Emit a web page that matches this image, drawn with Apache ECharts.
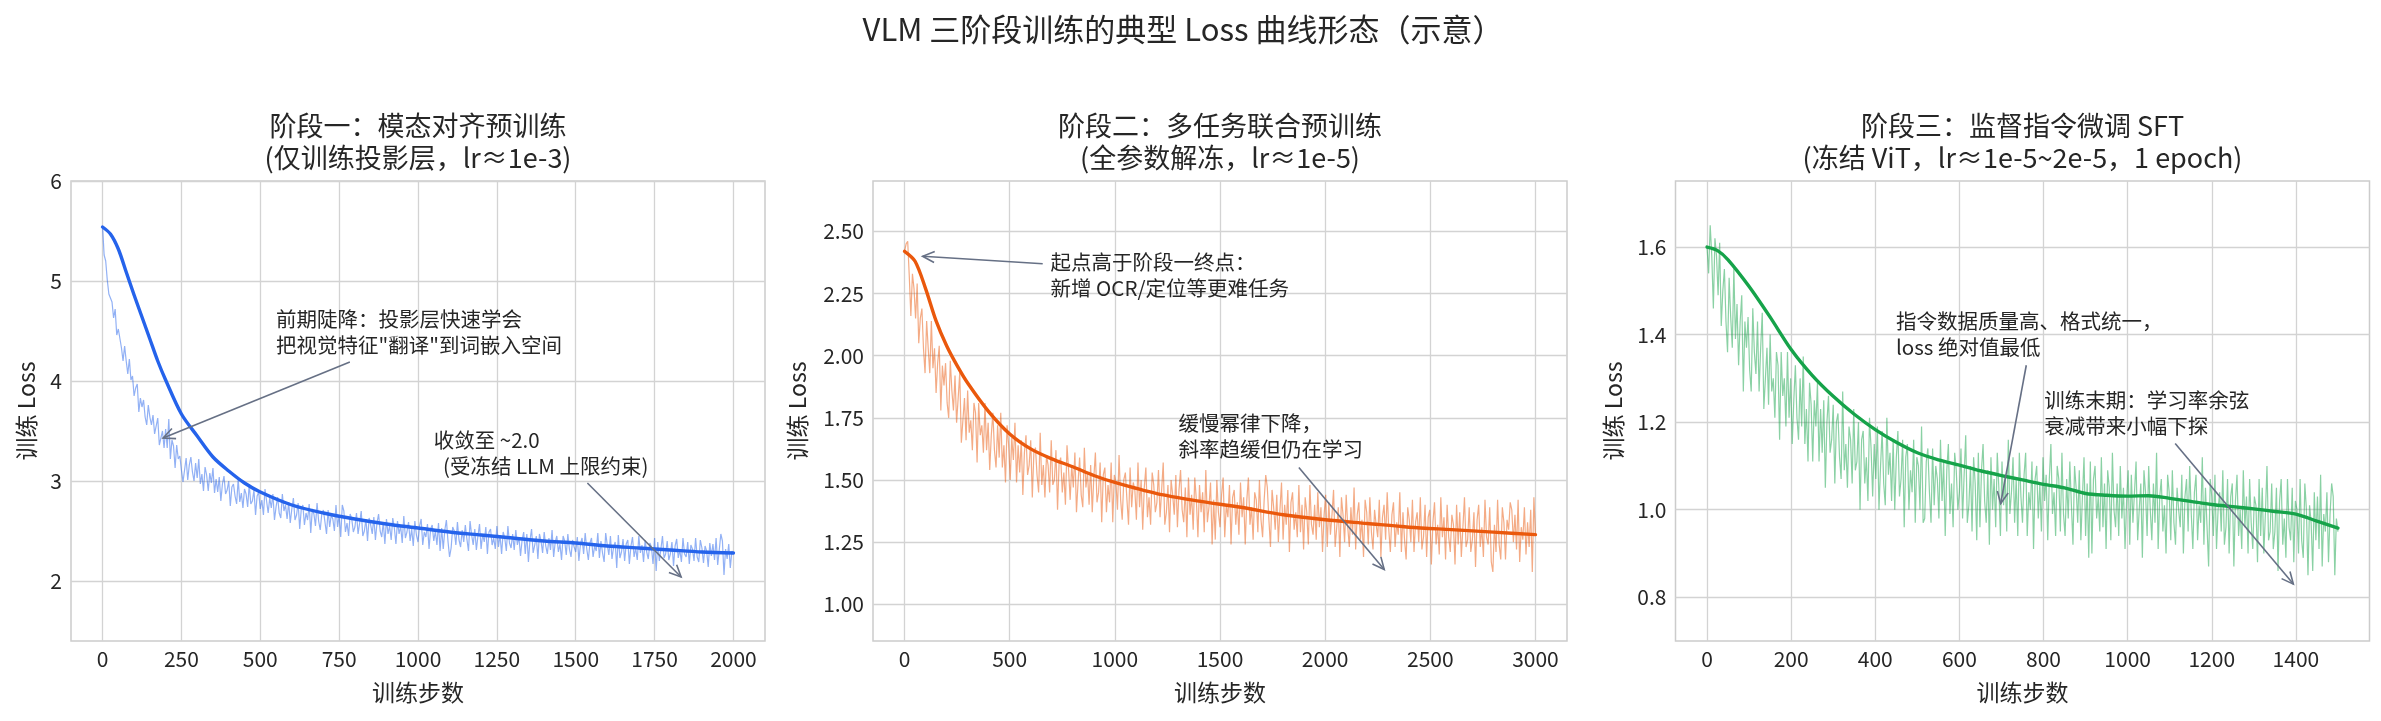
<!DOCTYPE html>
<html>
<head>
<meta charset="utf-8">
<title>VLM 三阶段训练的典型 Loss 曲线形态</title>
<script src="https://cdn.jsdelivr.net/npm/echarts@6/dist/echarts.min.js"></script>
<style>
  html, body { margin: 0; padding: 0; background: #fff; }
  #chart { width: 2381px; height: 721px; }
</style>
</head>
<body>
<div id="chart"></div>
<script>
// ---- data ----
// stage 1: raw loss every 5 steps (0..2000)
var step1 = 5;
var raw1 = [
  5.55, 5.26, 5.20, 5.01, 4.87, 4.86, 4.79, 4.63, 4.72, 4.46, 4.52, 4.52, 4.33, 4.20, 4.35, 4.20, 4.07, 4.22, 4.01, 4.05,
  3.85, 3.93, 3.97, 3.69, 3.83, 3.74, 3.81, 3.64, 3.56, 3.76, 3.64, 3.56, 3.66, 3.47, 3.55, 3.63, 3.36, 3.43, 3.50, 3.33,
  3.52, 3.33, 3.62, 3.22, 3.41, 3.35, 3.13, 3.36, 3.22, 3.25, 3.11, 2.99, 3.11, 3.23, 3.01, 3.16, 3.24, 3.09, 3.00, 3.18,
  3.03, 3.22, 2.97, 3.07, 2.90, 3.14, 3.06, 2.90, 3.08, 2.98, 3.13, 2.88, 3.02, 2.89, 3.04, 2.80, 2.97, 3.05, 2.87, 2.91,
  3.00, 2.75, 2.94, 2.97, 2.85, 2.77, 3.02, 2.79, 2.88, 2.73, 2.92, 2.87, 2.74, 2.97, 2.77, 2.80, 2.91, 2.66, 2.85, 2.89,
  2.72, 2.81, 2.66, 2.92, 2.80, 2.68, 2.83, 2.73, 2.87, 2.61, 2.74, 2.84, 2.68, 2.63, 2.87, 2.70, 2.76, 2.62, 2.79, 2.58,
  2.72, 2.83, 2.61, 2.66, 2.78, 2.52, 2.72, 2.76, 2.56, 2.68, 2.61, 2.77, 2.48, 2.72, 2.67, 2.55, 2.78, 2.60, 2.51, 2.67,
  2.71, 2.59, 2.47, 2.71, 2.54, 2.66, 2.62, 2.50, 2.76, 2.54, 2.66, 2.44, 2.76, 2.70, 2.49, 2.58, 2.45, 2.67, 2.62, 2.49,
  2.54, 2.68, 2.47, 2.58, 2.70, 2.45, 2.50, 2.62, 2.40, 2.63, 2.56, 2.47, 2.64, 2.41, 2.58, 2.67, 2.50, 2.44, 2.59, 2.37,
  2.62, 2.47, 2.55, 2.41, 2.63, 2.53, 2.37, 2.60, 2.47, 2.55, 2.38, 2.65, 2.43, 2.49, 2.59, 2.40, 2.52, 2.35, 2.60, 2.46,
  2.39, 2.55, 2.62, 2.36, 2.49, 2.44, 2.57, 2.32, 2.52, 2.56, 2.40, 2.50, 2.36, 2.58, 2.30, 2.53, 2.32, 2.51, 2.61, 2.40,
  2.24, 2.33, 2.54, 2.50, 2.36, 2.59, 2.41, 2.34, 2.51, 2.39, 2.56, 2.42, 2.30, 2.60, 2.46, 2.36, 2.52, 2.31, 2.45, 2.57,
  2.32, 2.47, 2.39, 2.54, 2.27, 2.49, 2.52, 2.36, 2.43, 2.32, 2.55, 2.34, 2.46, 2.27, 2.49, 2.43, 2.30, 2.55, 2.38, 2.33,
  2.47, 2.31, 2.51, 2.36, 2.44, 2.25, 2.41, 2.49, 2.27, 2.47, 2.19, 2.41, 2.52, 2.28, 2.36, 2.45, 2.22, 2.47, 2.40, 2.28,
  2.49, 2.35, 2.27, 2.43, 2.31, 2.51, 2.24, 2.39, 2.45, 2.29, 2.37, 2.21, 2.45, 2.40, 2.26, 2.47, 2.32, 2.24, 2.41, 2.34,
  2.29, 2.44, 2.20, 2.37, 2.43, 2.27, 2.48, 2.32, 2.21, 2.38, 2.43, 2.24, 2.35, 2.30, 2.48, 2.23, 2.40, 2.28, 2.19, 2.48,
  2.36, 2.26, 2.45, 2.22, 2.34, 2.39, 2.13, 2.46, 2.23, 2.29, 2.42, 2.20, 2.37, 2.41, 2.17, 2.35, 2.44, 2.24, 2.33, 2.21,
  2.45, 2.28, 2.36, 2.19, 2.41, 2.29, 2.22, 2.38, 2.34, 2.17, 2.43, 2.10, 2.39, 2.20, 2.32, 2.45, 2.23, 2.27, 2.40, 2.21,
  2.27, 2.39, 2.15, 2.35, 2.42, 2.23, 2.31, 2.19, 2.43, 2.27, 2.24, 2.39, 2.17, 2.36, 2.32, 2.20, 2.43, 2.24, 2.19, 2.41,
  2.33, 2.18, 2.35, 2.30, 2.14, 2.38, 2.25, 2.37, 2.21, 2.43, 2.16, 2.31, 2.47, 2.40, 2.06, 2.32, 2.22, 2.37, 2.13, 2.30, 2.28
];
var smoothSteps1 = [0, 25, 50, 75, 100, 125, 150, 175, 200, 250, 300, 350, 400, 450, 500,
  600, 700, 800, 900, 1000, 1100, 1200, 1300, 1400, 1500, 1600, 1700, 1800, 1900, 2000];
var smooth1 = [5.54, 5.47, 5.32, 5.09, 4.86, 4.64, 4.42, 4.20, 4.01, 3.67, 3.45, 3.24, 3.10, 2.98, 2.89,
  2.76, 2.68, 2.62, 2.57, 2.53, 2.49, 2.46, 2.43, 2.40, 2.38, 2.35, 2.33, 2.31, 2.29, 2.28];

// stage 2: raw loss every 7.5 steps (0..3000)
var step2 = 7.5;
var raw2 = [
  2.42, 2.45, 2.46, 2.32, 2.16, 2.33, 2.27, 2.15, 2.29, 2.05, 2.15, 2.19, 2.03, 1.93, 2.14, 2.03, 1.93, 2.14, 1.95, 2.03,
  1.85, 1.97, 2.04, 1.78, 1.96, 1.88, 1.97, 1.81, 1.75, 1.98, 1.86, 1.78, 1.92, 1.73, 1.83, 1.93, 1.65, 1.74, 1.83, 1.66,
  1.86, 1.69, 1.74, 1.62, 1.81, 1.77, 1.57, 1.81, 1.68, 1.72, 1.61, 1.81, 1.62, 1.73, 1.54, 1.68, 1.77, 1.62, 1.55, 1.72,
  1.59, 1.77, 1.55, 1.64, 1.49, 1.72, 1.64, 1.50, 1.67, 1.58, 1.73, 1.49, 1.64, 1.53, 1.66, 1.44, 1.61, 1.68, 1.52, 1.56,
  1.66, 1.43, 1.61, 1.63, 1.52, 1.45, 1.69, 1.48, 1.56, 1.43, 1.60, 1.56, 1.45, 1.66, 1.48, 1.50, 1.62, 1.38, 1.57, 1.59,
  1.45, 1.53, 1.40, 1.64, 1.54, 1.42, 1.56, 1.47, 1.61, 1.37, 1.49, 1.59, 1.44, 1.39, 1.63, 1.47, 1.53, 1.40, 1.56, 1.37,
  1.51, 1.61, 1.41, 1.45, 1.57, 1.33, 1.52, 1.55, 1.37, 1.48, 1.41, 1.57, 1.33, 1.52, 1.49, 1.38, 1.60, 1.42, 1.34, 1.50,
  1.53, 1.42, 1.32, 1.55, 1.39, 1.49, 1.46, 1.34, 1.57, 1.39, 1.50, 1.30, 1.47, 1.55, 1.35, 1.43, 1.32, 1.53, 1.48, 1.37,
  1.41, 1.54, 1.35, 1.46, 1.57, 1.32, 1.37, 1.48, 1.29, 1.50, 1.44, 1.36, 1.52, 1.31, 1.46, 1.54, 1.38, 1.33, 1.47, 1.27,
  1.51, 1.36, 1.44, 1.30, 1.51, 1.42, 1.27, 1.48, 1.37, 1.45, 1.29, 1.54, 1.33, 1.39, 1.49, 1.24, 1.42, 1.26, 1.50, 1.37,
  1.31, 1.44, 1.51, 1.27, 1.40, 1.35, 1.48, 1.24, 1.43, 1.46, 1.32, 1.41, 1.28, 1.49, 1.35, 1.43, 1.24, 1.42, 1.51, 1.32,
  1.39, 1.26, 1.45, 1.42, 1.29, 1.50, 1.34, 1.27, 1.42, 1.52, 1.47, 1.34, 1.23, 1.46, 1.39, 1.30, 1.44, 1.25, 1.38, 1.49,
  1.26, 1.40, 1.32, 1.46, 1.21, 1.41, 1.45, 1.30, 1.37, 1.27, 1.48, 1.29, 1.40, 1.22, 1.43, 1.37, 1.24, 1.48, 1.32, 1.28,
  1.40, 1.26, 1.45, 1.31, 1.39, 1.21, 1.36, 1.44, 1.23, 1.41, 1.28, 1.36, 1.46, 1.23, 1.31, 1.39, 1.19, 1.43, 1.36, 1.25,
  1.44, 1.31, 1.23, 1.39, 1.28, 1.47, 1.22, 1.36, 1.41, 1.26, 1.34, 1.19, 1.42, 1.37, 1.24, 1.43, 1.29, 1.22, 1.38, 1.32,
  1.27, 1.42, 1.19, 1.35, 1.40, 1.26, 1.45, 1.30, 1.21, 1.36, 1.41, 1.23, 1.33, 1.28, 1.45, 1.21, 1.37, 1.26, 1.18, 1.39,
  1.34, 1.25, 1.42, 1.21, 1.33, 1.37, 1.25, 1.43, 1.22, 1.27, 1.40, 1.19, 1.35, 1.38, 1.16, 1.33, 1.41, 1.24, 1.32, 1.20,
  1.43, 1.27, 1.35, 1.18, 1.40, 1.27, 1.21, 1.36, 1.32, 1.16, 1.40, 1.24, 1.37, 1.19, 1.31, 1.43, 1.23, 1.26, 1.39, 1.21,
  1.26, 1.37, 1.15, 1.34, 1.40, 1.23, 1.31, 1.19, 1.42, 1.27, 1.24, 1.39, 1.17, 1.13, 1.32, 1.21, 1.42, 1.24, 1.18, 1.39,
  1.33, 1.18, 1.34, 1.30, 1.41, 1.38, 1.25, 1.36, 1.22, 1.42, 1.17, 1.31, 1.26, 1.39, 1.20, 1.33, 1.23, 1.38, 1.13, 1.43, 1.28
];
var smoothSteps2 = [0, 50, 100, 150, 200, 250, 300, 400, 500, 600, 700, 800, 900, 1000,
  1200, 1400, 1600, 1800, 2000, 2200, 2400, 2600, 2800, 3000];
var smooth2 = [2.42, 2.38, 2.27, 2.14, 2.04, 1.96, 1.89, 1.775, 1.685, 1.625, 1.585, 1.553, 1.518, 1.49,
  1.445, 1.415, 1.39, 1.36, 1.34, 1.325, 1.31, 1.30, 1.29, 1.28];

// stage 3: raw loss every 3.75 steps (0..1500)
var step3 = 3.75;
var raw3 = [
  1.60, 1.54, 1.65, 1.58, 1.46, 1.62, 1.58, 1.49, 1.61, 1.42, 1.50, 1.55, 1.43, 1.36, 1.53, 1.44, 1.37, 1.55, 1.39, 1.47,
  1.33, 1.43, 1.49, 1.27, 1.43, 1.37, 1.44, 1.32, 1.27, 1.46, 1.36, 1.31, 1.43, 1.27, 1.37, 1.45, 1.23, 1.30, 1.37, 1.24,
  1.40, 1.27, 1.30, 1.21, 1.36, 1.33, 1.16, 1.36, 1.26, 1.30, 1.19, 1.36, 1.21, 1.30, 1.15, 1.25, 1.33, 1.21, 1.16, 1.30,
  1.19, 1.35, 1.15, 1.23, 1.11, 1.29, 1.24, 1.11, 1.25, 1.19, 1.29, 1.11, 1.23, 1.13, 1.25, 1.05, 1.20, 1.26, 1.13, 1.16,
  1.24, 1.06, 1.20, 1.22, 1.12, 1.07, 1.27, 1.09, 1.15, 1.05, 1.19, 1.16, 1.06, 1.23, 1.09, 1.11, 1.20, 1.00, 1.16, 1.18,
  1.06, 1.12, 1.02, 1.21, 1.14, 1.03, 1.15, 1.07, 1.19, 1.00, 1.10, 1.18, 1.06, 1.01, 1.21, 1.08, 1.13, 1.02, 1.16, 1.00,
  1.12, 1.18, 1.03, 1.07, 1.16, 0.96, 1.12, 1.15, 1.00, 1.09, 1.04, 1.16, 0.97, 1.12, 1.10, 1.00, 1.19, 0.97, 0.98, 1.11,
  1.14, 1.04, 0.97, 1.14, 1.01, 1.10, 1.07, 0.98, 1.16, 1.02, 1.11, 0.94, 1.09, 1.15, 0.99, 1.06, 0.96, 1.13, 1.09, 1.00,
  1.04, 1.14, 0.98, 1.08, 1.17, 0.97, 1.01, 1.10, 0.95, 1.12, 1.06, 0.93, 1.13, 0.96, 1.09, 1.15, 1.02, 0.97, 1.09, 0.92,
  1.12, 1.00, 1.07, 0.96, 1.13, 1.05, 0.94, 1.11, 1.01, 1.08, 0.95, 1.16, 0.99, 1.04, 1.12, 0.97, 1.07, 0.94, 1.13, 1.03,
  0.97, 1.08, 1.13, 0.94, 1.04, 1.00, 1.11, 0.91, 1.07, 1.10, 0.98, 1.06, 0.95, 1.12, 1.02, 1.08, 0.93, 1.07, 1.15, 0.99,
  1.04, 0.94, 1.10, 1.07, 0.95, 1.13, 0.99, 0.94, 1.07, 0.98, 1.11, 1.01, 0.92, 1.10, 1.05, 0.97, 1.09, 0.93, 1.03, 1.12,
  0.94, 1.06, 0.89, 1.11, 0.90, 1.07, 1.10, 0.98, 1.03, 0.95, 1.12, 0.96, 1.06, 0.91, 1.09, 1.05, 0.93, 1.13, 1.00, 0.96,
  1.06, 0.94, 1.10, 0.98, 1.05, 0.91, 1.02, 1.09, 0.92, 1.08, 0.97, 1.04, 1.11, 0.93, 1.00, 1.06, 0.89, 1.09, 1.04, 0.94,
  1.10, 1.00, 0.93, 1.06, 0.97, 1.13, 0.91, 1.03, 1.07, 0.95, 1.01, 0.90, 1.08, 1.04, 0.93, 1.09, 0.97, 0.92, 1.05, 1.00,
  0.96, 1.08, 0.90, 1.03, 1.07, 0.95, 1.10, 0.99, 0.91, 1.04, 1.08, 0.93, 1.01, 0.97, 1.12, 0.92, 1.05, 0.96, 0.87, 1.07,
  1.03, 0.94, 1.08, 0.91, 1.00, 1.04, 0.95, 1.09, 0.92, 0.96, 1.07, 0.90, 1.03, 1.06, 0.87, 1.02, 1.08, 0.94, 1.00, 0.91,
  1.09, 0.96, 1.03, 0.90, 1.07, 0.97, 0.91, 1.03, 1.01, 0.88, 1.07, 0.94, 1.05, 0.90, 0.99, 1.10, 0.93, 0.95, 1.06, 0.91,
  0.95, 1.05, 0.86, 1.02, 1.07, 0.92, 0.98, 0.89, 1.07, 0.96, 0.93, 1.05, 0.88, 1.02, 1.00, 0.90, 1.07, 0.93, 0.89, 1.06,
  1.00, 0.85, 1.01, 0.97, 0.86, 1.04, 0.93, 1.03, 0.91, 1.08, 0.87, 0.99, 0.95, 1.04, 0.88, 0.99, 1.06, 1.03, 0.85, 0.98, 0.95
];
var smoothSteps3 = [0, 25, 50, 100, 150, 200, 250, 300, 350, 400, 450, 500, 550, 600, 650, 700,
  750, 800, 850, 900, 950, 1000, 1050, 1100, 1150, 1200, 1250, 1300, 1350, 1400, 1450, 1500];
var smooth3 = [1.600, 1.592, 1.571, 1.510, 1.440, 1.366, 1.307, 1.259, 1.218, 1.183, 1.154, 1.130,
  1.114, 1.102, 1.089, 1.078, 1.068, 1.058, 1.050, 1.037, 1.033, 1.031, 1.032, 1.026, 1.019,
  1.012, 1.007, 1.002, 0.996, 0.990, 0.974, 0.958];

// tick labels
var xTicks1 = [0, 250, 500, 750, 1000, 1250, 1500, 1750, 2000];
var yTicks1 = [2, 3, 4, 5, 6];
var xTicks2 = [0, 500, 1000, 1500, 2000, 2500, 3000];
var yTicks2 = [1.00, 1.25, 1.50, 1.75, 2.00, 2.25, 2.50];
var xTicks3 = [0, 200, 400, 600, 800, 1000, 1200, 1400];
var yTicks3 = [0.8, 1.0, 1.2, 1.4, 1.6];

var suptitle = 'VLM 三阶段训练的典型 Loss 曲线形态（示意）';
var titles = [
  '阶段一：模态对齐预训练\n(仅训练投影层，lr≈1e-3)',
  '阶段二：多任务联合预训练\n(全参数解冻，lr≈1e-5)',
  '阶段三：监督指令微调 SFT\n(冻结 ViT，lr≈1e-5~2e-5，1 epoch)'
];

var annotations = [
  { grid: 0, text: '前期陡降：投影层快速学会\n把视觉特征"翻译"到词嵌入空间', at: [550, 4.49], from: [784, 4.19], to: [192, 3.43] },
  { grid: 0, text: '收敛至 ~2.0\n  (受冻结 LLM 上限约束)', at: [1050, 3.28], from: [1537, 2.98], to: [1834, 2.04] },
  { grid: 1, text: '起点高于阶段一终点：\n新增 OCR/定位等更难任务', at: [694, 2.325], from: [657, 2.37], to: [86, 2.40] },
  { grid: 1, text: '缓慢幂律下降，\n斜率趋缓但仍在学习', at: [1303, 1.675], from: [1875, 1.55], to: [2281, 1.14] },
  { grid: 2, text: '指令数据质量高、格式统一，\nloss 绝对值最低', at: [449, 1.40], from: [759, 1.33], to: [698, 1.014] },
  { grid: 2, text: '训练末期：学习率余弦\n衰减带来小幅下探', at: [802, 1.221], from: [1113, 1.151], to: [1394, 0.83] }
];

// ---- chart ----
var FONT = '"Noto Sans CJK SC", "Noto Sans", sans-serif';
var ink = '#262626';
var gridColor = '#d3d3d3';
var arrowColor = '#667085';

function byStep(values, step) {
  return values.map(function (v, i) { return [i * step, v]; });
}
function byX(xs, ys) {
  return xs.map(function (x, i) { return [x, ys[i]]; });
}

var panels = [
  { color: '#2563eb', raw: byStep(raw1, step1), smooth: byX(smoothSteps1, smooth1),
    xMin: -100, xMax: 2100, yMin: 1.4, yMax: 6.0, xTicks: xTicks1, yTicks: yTicks1, yDigits: 0,
    left: 71, nameGap: 33 },
  { color: '#ea580c', raw: byStep(raw2, step2), smooth: byX(smoothSteps2, smooth2),
    xMin: -150, xMax: 3150, yMin: 0.852, yMax: 2.703, xTicks: xTicks2, yTicks: yTicks2, yDigits: 2,
    left: 873, nameGap: 64 },
  { color: '#16a34a', raw: byStep(raw3, step3), smooth: byX(smoothSteps3, smooth3),
    xMin: -75, xMax: 1575, yMin: 0.70, yMax: 1.751, xTicks: xTicks3, yTicks: yTicks3, yDigits: 1,
    left: 1675.5, nameGap: 51 }
];
var gridTop = 181, gridHeight = 460, gridWidth = 694;

var chart = echarts.init(document.getElementById('chart'));

var option = {
  animation: false,
  backgroundColor: '#ffffff',
  textStyle: { fontFamily: FONT, color: ink },
  title: [{
    text: suptitle, left: 1183, top: 11, textAlign: 'center', padding: 0,
    textStyle: { fontFamily: FONT, fontSize: 31, fontWeight: 'normal', color: ink, lineHeight: 36 }
  }],
  grid: [], xAxis: [], yAxis: [], series: []
};

panels.forEach(function (p, k) {
  option.title.push({
    text: titles[k], left: p.left + gridWidth / 2, top: 110, textAlign: 'center', padding: 0,
    textStyle: { fontFamily: FONT, fontSize: 27, fontWeight: 'normal', color: ink, lineHeight: 32 }
  });
  option.grid.push({
    left: p.left, top: gridTop, width: gridWidth, height: gridHeight,
    show: true, borderColor: '#cccccc', borderWidth: 1.5, backgroundColor: 'transparent'
  });
  option.xAxis.push({
    type: 'value', gridIndex: k, min: p.xMin, max: p.xMax,
    name: '训练步数', nameLocation: 'middle', nameGap: 40,
    nameTextStyle: { fontFamily: FONT, fontSize: 23, color: ink },
    axisLine: { show: false },
    axisTick: { show: false, customValues: p.xTicks },
    axisLabel: {
      customValues: p.xTicks, margin: 8, fontSize: 21, color: ink, fontFamily: FONT,
      formatter: function (v) { return String(v); }
    },
    splitLine: { show: true, lineStyle: { color: gridColor, width: 1.3 } }
  });
  option.yAxis.push({
    type: 'value', gridIndex: k, min: p.yMin, max: p.yMax,
    name: '训练 Loss', nameLocation: 'middle', nameGap: p.nameGap, nameRotate: 90,
    nameTextStyle: { fontFamily: FONT, fontSize: 23, color: ink },
    axisLine: { show: false },
    axisTick: { show: false, customValues: p.yTicks },
    axisLabel: {
      customValues: p.yTicks, margin: 9, fontSize: 21, color: ink, fontFamily: FONT,
      formatter: (function (d) { return function (v) { return Number(v).toFixed(d); }; })(p.yDigits)
    },
    splitLine: { show: true, lineStyle: { color: gridColor, width: 1.3 } }
  });
  option.series.push({
    type: 'line', xAxisIndex: k, yAxisIndex: k, data: p.raw,
    symbol: 'none', silent: true, z: 2,
    lineStyle: { color: p.color, width: 1.2, opacity: 0.5 }
  });
  option.series.push({
    type: 'line', xAxisIndex: k, yAxisIndex: k, data: p.smooth,
    symbol: 'none', silent: true, z: 3, smooth: 0.3,
    lineStyle: { color: p.color, width: 3.4, cap: 'round', join: 'round' }
  });
});

chart.setOption(option);

// annotations: text anchored at data coords, arrows from/to data coords
var graphics = [];
annotations.forEach(function (a) {
  var t = chart.convertToPixel({ gridIndex: a.grid }, a.at);
  var p0 = chart.convertToPixel({ gridIndex: a.grid }, a.from);
  var p1 = chart.convertToPixel({ gridIndex: a.grid }, a.to);
  graphics.push({
    type: 'text', x: t[0], y: t[1], z: 10,
    style: {
      text: a.text, fontFamily: FONT, fontSize: 20.5, fill: ink,
      align: 'left', verticalAlign: 'middle', lineHeight: 26
    }
  });
  var dx = p0[0] - p1[0], dy = p0[1] - p1[1];
  var len = Math.sqrt(dx * dx + dy * dy);
  var ux = dx / len, uy = dy / len;
  var hl = 13, ang = 25 * Math.PI / 180;
  var c = Math.cos(ang), s = Math.sin(ang);
  var w1 = [p1[0] + hl * (ux * c - uy * s), p1[1] + hl * (ux * s + uy * c)];
  var w2 = [p1[0] + hl * (ux * c + uy * s), p1[1] + hl * (-ux * s + uy * c)];
  graphics.push({
    type: 'line', z: 10,
    shape: { x1: p0[0], y1: p0[1], x2: p1[0], y2: p1[1] },
    style: { stroke: arrowColor, lineWidth: 1.6 }
  });
  graphics.push({
    type: 'polyline', z: 10,
    shape: { points: [w1, p1, w2] },
    style: { stroke: arrowColor, lineWidth: 1.6, fill: null }
  });
});
chart.setOption({ graphic: graphics });

window.addEventListener('resize', function () { chart.resize(); });
</script>
</body>
</html>
